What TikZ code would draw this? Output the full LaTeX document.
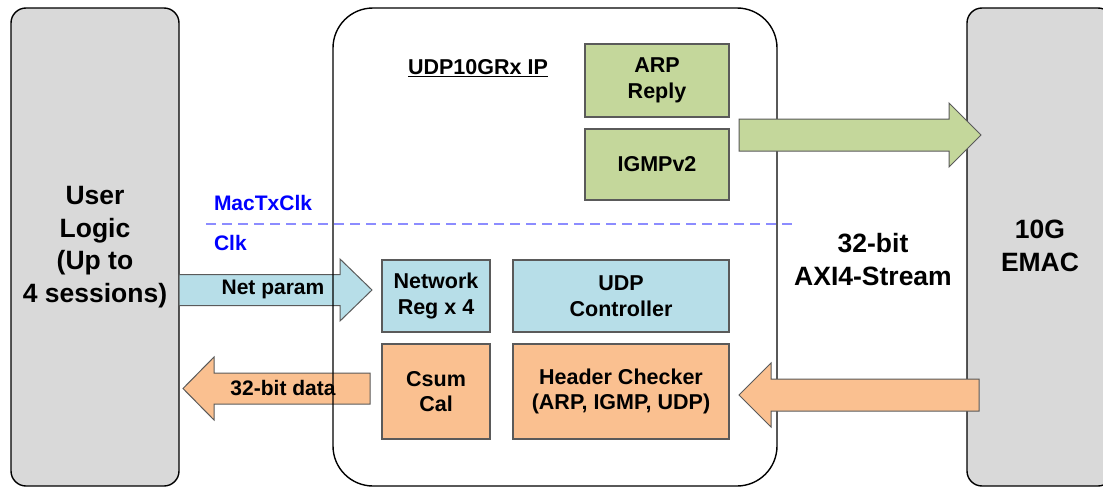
\documentclass[tikz,border=0pt]{standalone}
\usepackage{fontspec}
\setmainfont{Liberation Sans}
\definecolor{cgray}{HTML}{D9D9D9}
\definecolor{cgreen}{HTML}{C4D79B}
\definecolor{cblue}{HTML}{B7DEE8}
\definecolor{corange}{HTML}{FAC090}
\definecolor{cline}{HTML}{5A5A5A}
\definecolor{cdash}{HTML}{8C8CFF}
\begin{document}
\begin{tikzpicture}[x=1pt,y=-1pt,
  every node/.style={font=\bfseries, inner sep=0pt, outer sep=0pt},
  outerbox/.style={draw=black, line width=1.4pt},
  sidebox/.style={outerbox, fill=cgray, rounded corners=15pt},
  block/.style={draw=cline, line width=1.1pt, align=center,
    font=\bfseries\fontsize{21.5}{25.5}\selectfont},
  barrow/.style={draw=cline, line width=1pt, line join=miter},
  biglabel/.style={align=center, font=\bfseries\fontsize{26.5}{32.5}\selectfont},
  clklabel/.style={anchor=west, text=blue, font=\bfseries\fontsize{21}{24}\selectfont},
  arrlabel/.style={font=\bfseries\fontsize{21}{24}\selectfont}]
\useasboundingbox (0,0) rectangle (1103,487);

% side blocks: user logic and the 10G MAC
\node[sidebox, minimum width=168pt, minimum height=478pt] (user) at (95,247) {};
\node[sidebox, minimum width=146pt, minimum height=478pt] (emac) at (1040,247) {};

% IP core background
\fill[white, rounded corners=40pt] (333,8) rectangle (777,486);

% arrows between user logic and the IP core (under the core outline)
\draw[barrow, fill=cblue] (179,274.5) -- (340,274.5) -- (340,259) -- (372,290)
  -- (340,321) -- (340,305.5) -- (179,305.5) -- cycle;
\draw[barrow, fill=corange] (370,373) -- (214,373) -- (214,357) -- (183,388.5)
  -- (214,420) -- (214,404) -- (370,404) -- cycle;

% IP core outline
\draw[outerbox, rounded corners=40pt] (333,8) rectangle (777,486);

% internal blocks
\node[block, fill=cgreen, minimum width=144pt, minimum height=73pt] (arp) at (657,80.5) {ARP\\Reply};
\node[block, fill=cgreen, minimum width=144pt, minimum height=71pt] (igmp) at (657,164.5) {IGMPv2};
\node[block, fill=cblue, minimum width=108pt, minimum height=72pt] (netreg) at (436,296) {Network\\Reg x 4};
\node[block, fill=cblue, minimum width=216pt, minimum height=72pt] (udpctl) at (621,296) {UDP\\Controller};
\node[block, fill=corange, minimum width=108pt, minimum height=95pt] (csum) at (436,391.5) {Csum\\Cal};
\node[block, fill=corange, minimum width=216pt, minimum height=95pt] (hdr) at (621,391.5) {Header Checker\\(ARP, IGMP, UDP)};

% clock domain boundary
\coordinate (cdl) at (206,224);
\coordinate (cdr) at (797,224);
\draw[cdash, line width=1.5pt, dash pattern=on 10pt off 6pt] (cdl) -- (cdr);

% arrows between the IP core and the MAC (on top)
\draw[barrow, fill=cgreen] (739,119) -- (949,119) -- (949,103) -- (981,135)
  -- (949,167) -- (949,151) -- (739,151) -- cycle;
\draw[barrow, fill=corange] (979,379) -- (771,379) -- (771,363) -- (739,395)
  -- (771,427) -- (771,411) -- (979,411) -- cycle;

% labels
\node[biglabel] (userlbl) at (95,247) {User\\Logic\\(Up to\\4 sessions)};
\node[biglabel] (emaclbl) at (1040,246) {10G\\EMAC};
\node[biglabel] (axilbl) at (873,259.5) {32-bit\\AXI4-Stream};
\node[arrlabel, font=\bfseries\fontsize{21.5}{24}\selectfont] (iplbl) at (478,68) {\underline{UDP10GRx IP}};
\node[clklabel] (mactx) at (214,203) {MacTxClk};
\node[clklabel] (clk) at (214,243) {Clk};
\node[arrlabel] (netlbl) at (273,289.5) {Net param};
\node[arrlabel] (datalbl) at (283,388.5) {32-bit data};
\end{tikzpicture}
\end{document}
